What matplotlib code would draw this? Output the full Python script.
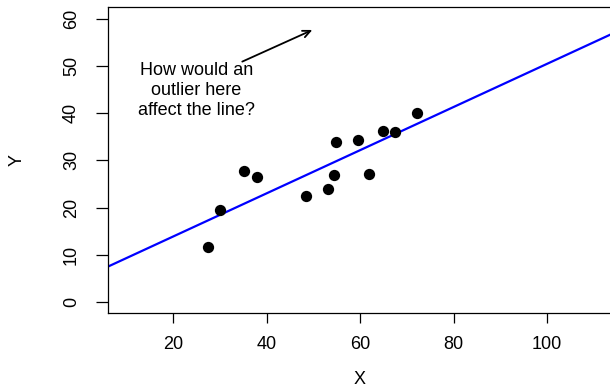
import matplotlib
matplotlib.use('Agg')
import matplotlib.pyplot as plt

plt.rcParams['font.family'] = ['Liberation Sans', 'DejaVu Sans']

# --- data ---
x_vals = [27.5, 30.0, 35.2, 38.0, 48.5, 53.1, 54.5, 54.8, 59.6, 61.9, 64.9, 67.5, 72.1]
y_vals = [11.6, 19.4, 27.7, 26.4, 22.4, 24.0, 26.8, 33.8, 34.2, 27.1, 36.3, 35.9, 40.1]

fit_intercept = 4.72
fit_slope = 0.457

x_ticks = [20, 40, 60, 80, 100]
y_ticks = [0, 10, 20, 30, 40, 50, 60]

note_text = "How would an\noutlier here\naffect the line?"
note_pos = (25.0, 44.8)
arrow_tail = (34.8, 50.9)
arrow_head = (49.8, 57.6)

FS = 13

W, H = 610, 387
fig = plt.figure(figsize=(W / 100, H / 100), dpi=100)
# plot box runs slightly past the right edge of the image, as in the reference
left, right = 107.7 / W, 612.4 / W
bottom, top = (H - 313.3) / H, (H - 7.3) / H
ax = fig.add_axes([left, bottom, right - left, top - bottom])

ax.scatter(x_vals, y_vals, s=66, color='black', zorder=3, linewidths=0)
ax.axline((0, fit_intercept), slope=fit_slope, color='blue', lw=1.6, zorder=2)

ax.annotate('', xy=arrow_head, xytext=arrow_tail,
            arrowprops=dict(arrowstyle='->,head_length=0.55,head_width=0.25',
                            color='black', lw=1.3, shrinkA=0, shrinkB=0))
ax.text(note_pos[0], note_pos[1], note_text, ha='center', va='center',
        fontsize=FS, linespacing=1.2)

ax.set_xlim(6, 114)
ax.set_ylim(-2.4, 62.4)
ax.set_xticks(x_ticks)
ax.set_yticks(y_ticks)
ax.set_yticklabels([str(v) for v in y_ticks], rotation=90, va='center')

ax.tick_params(axis='x', direction='out', length=7.5, width=0.9, pad=9, labelsize=FS)
ax.tick_params(axis='y', direction='out', length=9, width=0.9, pad=11, labelsize=FS)
for s in ax.spines.values():
    s.set_linewidth(0.9)

ax.set_xlabel('X', fontsize=FS, va='center')
ax.set_ylabel('Y', fontsize=FS, va='center')
ax.xaxis.set_label_coords(0.5, -0.217)
ax.yaxis.set_label_coords(-0.180, 0.5)

fig.savefig('out.png', dpi=100)
